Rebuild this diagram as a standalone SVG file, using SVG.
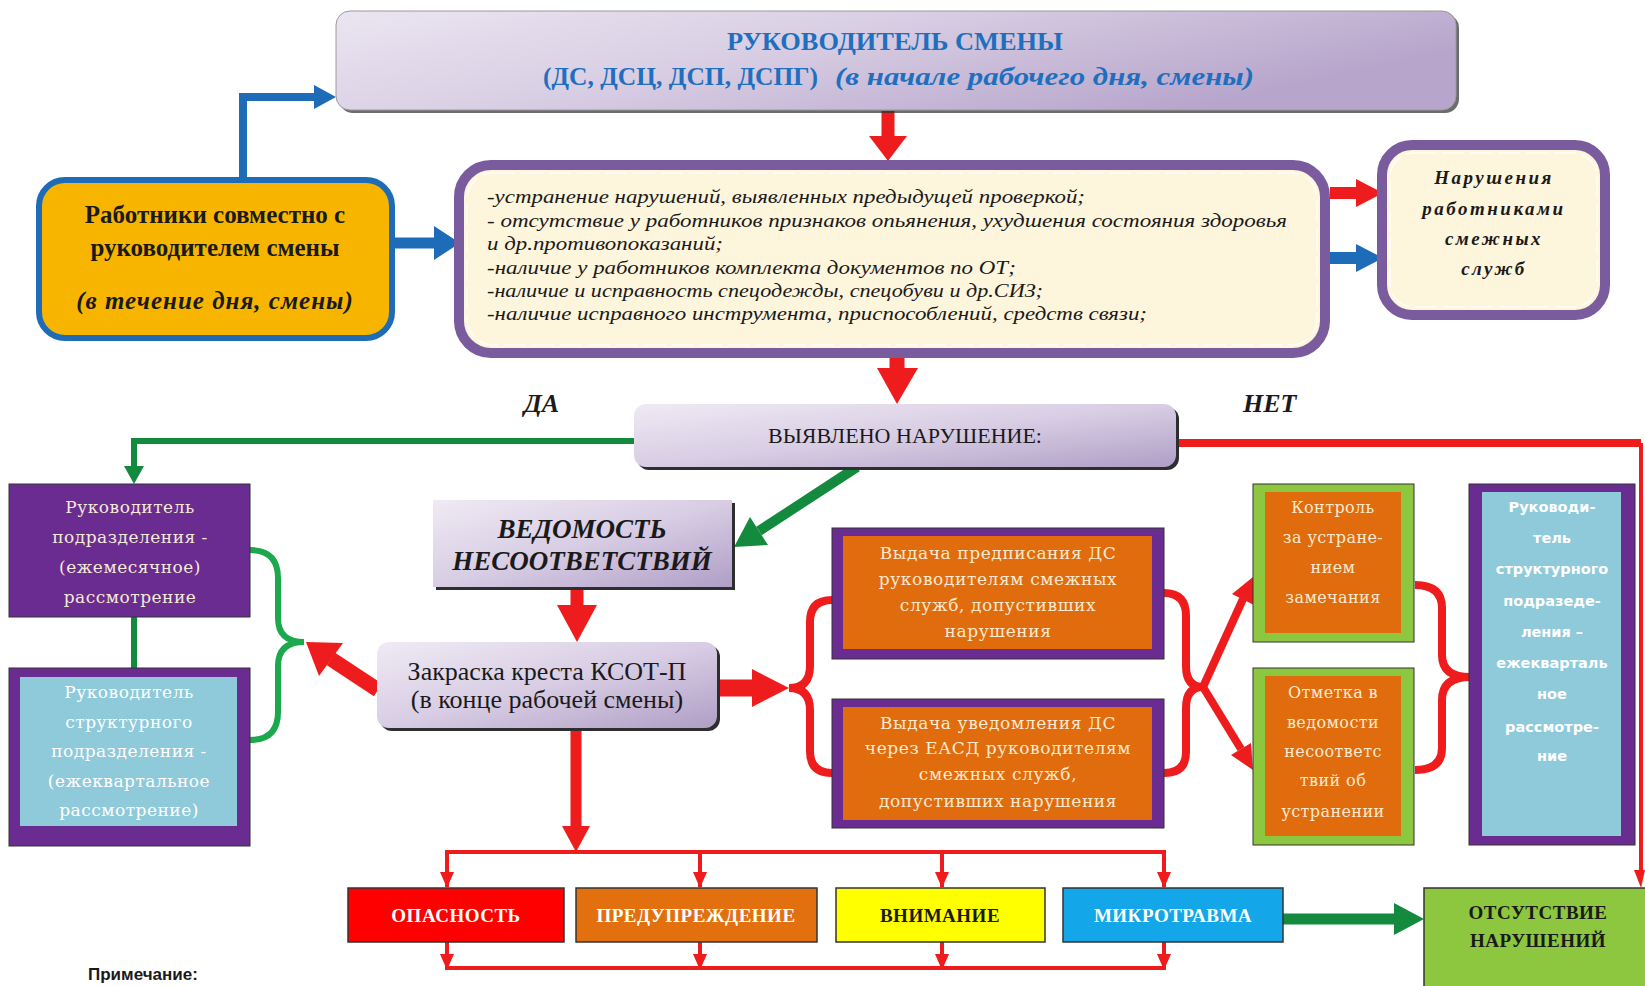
<svg xmlns="http://www.w3.org/2000/svg" width="1645" height="986" viewBox="0 0 1645 986">
<defs>
<linearGradient id="lav" x1="0" y1="0" x2="1" y2="1">
<stop offset="0" stop-color="#efeaf4"/>
<stop offset="0.5" stop-color="#d8cde4"/>
<stop offset="1" stop-color="#b09ec6"/>
</linearGradient>
<linearGradient id="lavTop" x1="0" y1="0" x2="1" y2="0.4">
<stop offset="0" stop-color="#ebe5f1"/>
<stop offset="0.45" stop-color="#d9cfe4"/>
<stop offset="1" stop-color="#b7a5cb"/>
</linearGradient>
<marker id="arrR" viewBox="0 0 16 14" refX="15" refY="7" markerWidth="16" markerHeight="14" markerUnits="userSpaceOnUse" orient="auto">
<path d="M0,0 L16,7 L0,14 Z" fill="#ee1c1c"/>
</marker>
<style>
.serif{font-family:"Liberation Serif","DejaVu Serif",serif;}
.lavbox{fill:url(#lav);}
.shadow{fill:#2e2e2e;}
.cream{fill:#fdf5dc;stroke:#7a5c9e;stroke-width:10;}
.inner{fill:none;stroke:#ffffff;stroke-width:1.5;stroke-dasharray:22 6;opacity:0.8;}
.purple{fill:#6a2c91;stroke:#333;stroke-width:1;}
.lblue{fill:#8fcadb;}
.orange{fill:#e06c0e;}
.lgreen{fill:#8dc63f;stroke:#333;stroke-width:1;}
.chk{font-family:"Liberation Serif",serif;font-style:italic;font-size:18px;fill:#1a1a1a;}
.otext{font-family:"DejaVu Serif",serif;font-size:17px;fill:#fbead0;text-anchor:middle;letter-spacing:0.6px;}
.gtext{font-family:"DejaVu Serif",serif;font-size:16px;fill:#fbead0;text-anchor:middle;letter-spacing:0.4px;}
.ltext{font-family:"DejaVu Serif",serif;font-size:17px;text-anchor:middle;letter-spacing:0.5px;}
.rtext{font-family:"DejaVu Sans",sans-serif;font-weight:bold;font-size:14.5px;fill:#ffffff;text-anchor:middle;}
.btm{font-family:"Liberation Serif",serif;font-weight:bold;font-size:19px;text-anchor:middle;letter-spacing:0.5px;}
.red{stroke:#ee1c1c;fill:none;}
.redf{fill:#ee1c1c;}
.blue{stroke:#1e6cb8;fill:none;}
.bluef{fill:#1e6cb8;}
.green{stroke:#138a3e;fill:none;}
.greenf{fill:#138a3e;}
</style>
</defs>
<rect width="1645" height="986" fill="#ffffff"/>

<g id="connectors">
<!-- blue: workers -> top -->
<path class="blue" d="M243,182 L243,97 L316,97" stroke-width="8"/>
<polygon class="bluef" points="314,85 336,97 314,109"/>
<!-- blue: workers -> checklist -->
<path class="blue" d="M392,243 L436,243" stroke-width="11"/>
<polygon class="bluef" points="434,226 460,243 434,260"/>
<!-- red: top -> checklist -->
<path class="red" d="M888,111 L888,138" stroke-width="13"/>
<polygon class="redf" points="869,136 907,136 888,161"/>
<!-- checklist -> right box -->
<path class="red" d="M1330,193 L1358,193" stroke-width="12"/>
<polygon class="redf" points="1356,179 1383,193 1356,207"/>
<path class="blue" d="M1330,258 L1358,258" stroke-width="12"/>
<polygon class="bluef" points="1356,244 1383,258 1356,272"/>
<!-- checklist -> detected -->
<path class="red" d="M897,357 L897,370" stroke-width="15"/>
<polygon class="redf" points="877,368 918,368 897,404"/>
<!-- green: detected -> left box 1 -->
<path class="green" d="M634,441 L134,441 L134,468" stroke-width="6"/>
<polygon class="greenf" points="124,466 144,466 134,484"/>
<!-- red: detected -> absence -->
<path class="red" d="M1176,443 L1641,443" stroke-width="8"/>
<path class="red" d="M1641,443 L1641,872" stroke-width="4"/>
<polygon class="redf" points="1634,870 1645,870 1641,888"/>
<!-- green: detected -> vedomost -->
<path class="green" d="M857,467 L759,531" stroke-width="10"/>
<polygon class="greenf" points="768,545 750,517 734,547"/>
<!-- red: vedomost -> zakraska -->
<path class="red" d="M577,587 L577,607" stroke-width="13"/>
<polygon class="redf" points="557,605 597,605 577,642"/>
<!-- green brace left -->
<path stroke="#1ca84c" fill="none" stroke-width="6" d="M250,550 Q278,550 278,578 L278,618 Q278,642 304,642 Q278,642 278,666 L278,712 Q278,740 250,740"/>
<path class="green" d="M134,617 L134,668" stroke-width="6"/>
<!-- red: zakraska -> left brace -->
<path class="red" d="M378,690 L331,659" stroke-width="15"/>
<polygon class="redf" points="343,643 319,676 306,642"/>
<!-- red: zakraska -> right brace -->
<path class="red" d="M717,688 L755,688" stroke-width="17"/>
<polygon class="redf" points="752,669 789,688 752,707"/>
<path class="red" stroke-width="8" d="M832,600 Q810,600 810,622 L810,666 Q810,688 789,688 Q810,688 810,710 L810,751 Q810,773 832,773"/>
<!-- red: orange boxes -> control boxes -->
<path class="red" stroke-width="8" d="M1164,593 Q1186,593 1186,616 L1186,666 Q1186,687 1203,687 Q1186,687 1186,708 L1186,752 Q1186,773 1164,773"/>
<path class="red" d="M1203,687 L1243,599" stroke-width="8"/>
<polygon class="redf" points="1254,605 1232,594 1253,577"/>
<path class="red" d="M1203,687 L1241,749" stroke-width="8"/>
<polygon class="redf" points="1251,743 1231,755 1253,770"/>
<!-- red brace right -->
<path class="red" stroke-width="8" d="M1415,585 Q1442,585 1442,608 L1442,655 Q1442,677 1470,677 Q1442,677 1442,700 L1442,748 Q1442,770 1415,770"/>
<!-- red: zakraska -> distribution -->
<path class="red" d="M576,729 L576,828" stroke-width="11"/>
<polygon class="redf" points="562,826 590,826 576,852"/>
<path class="red" stroke-width="4" d="M447,874 L447,852 L1164,852 L1164,874"/>
<path class="red" stroke-width="4" d="M447,860 L447,887" marker-end="url(#arrR)"/>
<path class="red" stroke-width="4" d="M700,852 L700,887" marker-end="url(#arrR)"/>
<path class="red" stroke-width="4" d="M942,852 L942,887" marker-end="url(#arrR)"/>
<path class="red" stroke-width="4" d="M1164,860 L1164,887" marker-end="url(#arrR)"/>
<path class="red" stroke-width="4" d="M447,942 L447,969" marker-end="url(#arrR)"/>
<path class="red" stroke-width="4" d="M700,942 L700,969" marker-end="url(#arrR)"/>
<path class="red" stroke-width="4" d="M942,942 L942,969" marker-end="url(#arrR)"/>
<path class="red" stroke-width="4" d="M1164,942 L1164,969" marker-end="url(#arrR)"/>
<path class="red" stroke-width="4" d="M445,968 L1166,968"/>
<!-- green: microtrauma -> absence -->
<path class="green" d="M1283,919 L1396,919" stroke-width="11"/>
<polygon class="greenf" points="1394,903 1424,919 1394,935"/>
</g>

<g id="node-top">
<rect x="339" y="14" width="1120" height="99" rx="14" class="shadow" opacity="0.7"/>
<rect x="336" y="11" width="1120" height="99" rx="14" fill="url(#lavTop)" stroke="#9a9a9a" stroke-width="1"/>
<text x="727" y="50" class="serif" font-size="25" font-weight="bold" fill="#1f6fbf" textLength="336" lengthAdjust="spacingAndGlyphs">РУКОВОДИТЕЛЬ СМЕНЫ</text>
<text x="543" y="85" class="serif" font-size="25" font-weight="bold" fill="#1f6fbf" textLength="275" lengthAdjust="spacingAndGlyphs">(ДС, ДСЦ, ДСП, ДСПГ)</text>
<text x="835" y="85" class="serif" font-size="25" font-weight="bold" font-style="italic" fill="#1f6fbf" textLength="419" lengthAdjust="spacingAndGlyphs">(в начале рабочего дня, смены)</text>
</g>

<g id="node-workers">
<rect x="39" y="180" width="353" height="158" rx="26" fill="#f7b500" stroke="#1e6cb8" stroke-width="6"/>
<text x="215" y="223" class="serif" font-size="25" font-weight="bold" fill="#1a1a1a" text-anchor="middle">Работники совместно с</text>
<text x="215" y="256" class="serif" font-size="25" font-weight="bold" fill="#1a1a1a" text-anchor="middle">руководителем смены</text>
<text x="215" y="309" class="serif" font-size="25" font-weight="bold" font-style="italic" fill="#1a1a1a" text-anchor="middle" letter-spacing="1">(в течение дня, смены)</text>
</g>

<g id="node-checklist">
<rect x="459" y="165" width="866" height="188" rx="32" class="cream"/>
<rect x="467" y="173" width="850" height="172" rx="26" class="inner"/>
<text x="487" y="203" class="chk" textLength="598" lengthAdjust="spacingAndGlyphs">-устранение нарушений, выявленных предыдущей проверкой;</text>
<text x="487" y="227" class="chk" textLength="800" lengthAdjust="spacingAndGlyphs">- отсутствие у работников признаков опьянения, ухудшения состояния здоровья</text>
<text x="487" y="250" class="chk" textLength="236" lengthAdjust="spacingAndGlyphs">и др.противопоказаний;</text>
<text x="487" y="274" class="chk" textLength="529" lengthAdjust="spacingAndGlyphs">-наличие у работников комплекта документов по ОТ;</text>
<text x="487" y="297" class="chk" textLength="556" lengthAdjust="spacingAndGlyphs">-наличие и исправность спецодежды, спецобуви и др.СИЗ;</text>
<text x="487" y="320" class="chk" textLength="660" lengthAdjust="spacingAndGlyphs">-наличие исправного инструмента, приспособлений, средств связи;</text>
</g>

<g id="node-related">
<rect x="1382" y="145" width="223" height="170" rx="30" class="cream"/>
<rect x="1390" y="153" width="207" height="154" rx="24" class="inner"/>
<g class="serif" font-size="19" font-weight="bold" font-style="italic" fill="#1a1a1a" text-anchor="middle" letter-spacing="2.5">
<text x="1494" y="184">Нарушения</text>
<text x="1494" y="215">работниками</text>
<text x="1494" y="245">смежных</text>
<text x="1494" y="275">служб</text>
</g>
</g>

<g id="label-yes"><text x="524" y="412" class="serif" font-size="26" font-weight="bold" font-style="italic" fill="#1a1a1a">ДА</text></g>
<g id="label-no"><text x="1243" y="412" class="serif" font-size="26" font-weight="bold" font-style="italic" fill="#1a1a1a">НЕТ</text></g>

<g id="node-detected">
<rect x="637" y="407" width="542" height="63" rx="12" class="shadow"/>
<rect x="634" y="404" width="542" height="63" rx="12" class="lavbox"/>
<text x="905" y="443" class="serif" font-size="22" fill="#1a1a1a" text-anchor="middle">ВЫЯВЛЕНО НАРУШЕНИЕ:</text>
</g>

<g id="node-dept-head">
<rect x="9" y="484" width="241" height="133" class="purple"/>
<g class="ltext" fill="#f3ead6">
<text x="130" y="513">Руководитель</text>
<text x="130" y="543">подразделения -</text>
<text x="130" y="573">(ежемесячное)</text>
<text x="130" y="603">рассмотрение</text>
</g>
</g>

<g id="node-struct-head-left">
<rect x="9" y="668" width="241" height="178" class="purple"/>
<rect x="20" y="677" width="217" height="149" class="lblue"/>
<g class="ltext" fill="#ffffff">
<text x="129" y="698">Руководитель</text>
<text x="129" y="728">структурного</text>
<text x="129" y="757">подразделения -</text>
<text x="129" y="787">(ежеквартальное</text>
<text x="129" y="816">рассмотрение)</text>
</g>
</g>

<g id="node-vedomost">
<rect x="436" y="503" width="299" height="87" class="shadow"/>
<rect x="433" y="500" width="299" height="87" class="lavbox"/>
<text x="582" y="538" class="serif" font-size="27" font-weight="bold" font-style="italic" fill="#1a1a1a" text-anchor="middle">ВЕДОМОСТЬ</text>
<text x="582" y="570" class="serif" font-size="27" font-weight="bold" font-style="italic" fill="#1a1a1a" text-anchor="middle">НЕСООТВЕТСТВИЙ</text>
</g>

<g id="node-zakraska">
<rect x="380" y="645" width="340" height="86" rx="12" class="shadow"/>
<rect x="377" y="642" width="340" height="86" rx="12" class="lavbox"/>
<text x="547" y="680" class="serif" font-size="26" fill="#1a1a1a" text-anchor="middle">Закраска креста КСОТ-П</text>
<text x="547" y="708" class="serif" font-size="26" fill="#1a1a1a" text-anchor="middle">(в конце рабочей смены)</text>
</g>

<g id="node-order">
<rect x="832" y="528" width="332" height="131" class="purple"/>
<rect x="843" y="536" width="309" height="113" class="orange"/>
<g class="otext">
<text x="998" y="559">Выдача  предписания ДС</text>
<text x="998" y="585">руководителям смежных</text>
<text x="998" y="611">служб, допустивших</text>
<text x="998" y="637">нарушения</text>
</g>
</g>

<g id="node-notice">
<rect x="832" y="699" width="332" height="129" class="purple"/>
<rect x="843" y="707" width="309" height="113" class="orange"/>
<g class="otext">
<text x="998" y="729">Выдача  уведомления ДС</text>
<text x="998" y="754">через ЕАСД руководителям</text>
<text x="998" y="780">смежных служб,</text>
<text x="998" y="807">допустивших нарушения</text>
</g>
</g>

<g id="node-control">
<rect x="1253" y="484" width="161" height="158" class="lgreen"/>
<rect x="1265" y="492" width="136" height="141" class="orange"/>
<g class="gtext">
<text x="1333" y="513">Контроль</text>
<text x="1333" y="543">за устране-</text>
<text x="1333" y="573">нием</text>
<text x="1333" y="603">замечания</text>
</g>
</g>

<g id="node-mark">
<rect x="1253" y="668" width="161" height="177" class="lgreen"/>
<rect x="1265" y="676" width="136" height="160" class="orange"/>
<g class="gtext">
<text x="1333" y="698">Отметка в</text>
<text x="1333" y="728">ведомости</text>
<text x="1333" y="757">несоответс</text>
<text x="1333" y="786">твий об</text>
<text x="1333" y="817">устранении</text>
</g>
</g>

<g id="node-struct-head-right">
<rect x="1469" y="484" width="166" height="361" class="purple"/>
<rect x="1482" y="492" width="139" height="344" class="lblue"/>
<g class="rtext">
<text x="1552" y="512">Руководи-</text>
<text x="1552" y="543">тель</text>
<text x="1552" y="574">структурного</text>
<text x="1552" y="606">подразеде-</text>
<text x="1552" y="637">ления –</text>
<text x="1552" y="668">ежекварталь</text>
<text x="1552" y="699">ное</text>
<text x="1552" y="732">рассмотре-</text>
<text x="1552" y="761">ние</text>
</g>
</g>

<g id="node-danger">
<rect x="348" y="888" width="216" height="54" fill="#ff0000" stroke="#333" stroke-width="1.5"/>
<text x="456" y="922" class="btm" fill="#ffffff">ОПАСНОСТЬ</text>
</g>
<g id="node-warning">
<rect x="576" y="888" width="241" height="54" fill="#e2700f" stroke="#333" stroke-width="1.5"/>
<text x="696" y="922" class="btm" fill="#ffffff">ПРЕДУПРЕЖДЕНИЕ</text>
</g>
<g id="node-attention">
<rect x="836" y="888" width="209" height="54" fill="#ffff00" stroke="#333" stroke-width="1.5"/>
<text x="940" y="922" class="btm" fill="#1a1a1a">ВНИМАНИЕ</text>
</g>
<g id="node-microtrauma">
<rect x="1063" y="888" width="220" height="54" fill="#13a6e8" stroke="#333" stroke-width="1.5"/>
<text x="1173" y="922" class="btm" fill="#ffffff">МИКРОТРАВМА</text>
</g>

<g id="node-absence">
<rect x="1424" y="888" width="225" height="110" fill="#8dc63f" stroke="#333" stroke-width="1.5"/>
<text x="1538" y="919" class="btm" fill="#1a1a1a">ОТСУТСТВИЕ</text>
<text x="1538" y="947" class="btm" fill="#1a1a1a">НАРУШЕНИЙ</text>
</g>

<g id="note">
<text x="88" y="980" font-family="Liberation Sans, Arial, sans-serif" font-size="17" font-weight="bold" fill="#1a1a1a">Примечание:</text>
</g>
</svg>
